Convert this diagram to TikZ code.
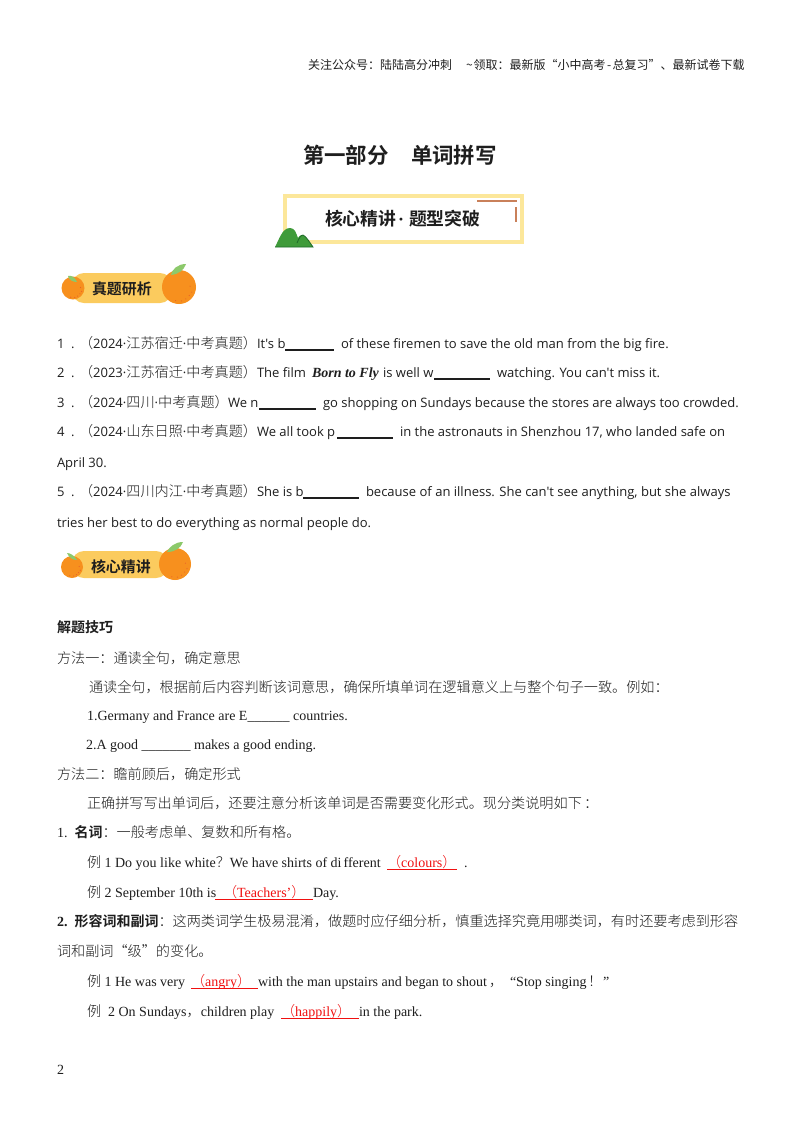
\documentclass[tikz,border=0pt]{standalone}
\usepackage{fontspec}
\setmainfont{Liberation Serif}
\newfontfamily\latsans{Open Sans}[Scale=0.93]
\newfontfamily\cjk{Noto Sans CJK SC}[UprightFont=* Light,Scale=1.01]
\newfontfamily\cjkr{Noto Sans CJK SC}[Scale=1.0]
\newfontfamily\cjkb{Noto Sans CJK SC Bold}
\newcommand\zh[1]{{\cjk #1}}
\newcommand\zr[1]{{\cjkr #1}}
\newcommand\zb[1]{{\cjkb #1}}
\newcommand\sdot{{\latsans ·}}
\definecolor{ink}{HTML}{1E1E1E}
\definecolor{ansred}{HTML}{F01010}
\definecolor{ribbon}{HTML}{FBCB5E}
\definecolor{orangeA}{HTML}{F7901E}
\definecolor{orangeD}{HTML}{E8622A}
\definecolor{leafg}{HTML}{8CC96B}
\definecolor{frameY}{HTML}{FCE79A}
\definecolor{frameO}{HTML}{C9805A}
\definecolor{hill}{HTML}{3F9B3A}
\definecolor{hillD}{HTML}{1F6B2A}
\tikzset{
  txt/.style={anchor=base west,inner sep=0pt,outer sep=0pt,text=ink,font=\fontsize{10.5pt}{12pt}\selectfont},
  sanstxt/.style={txt,font=\fontsize{10.5pt}{12pt}\selectfont\latsans},
  headtxt/.style={txt,font=\fontsize{9pt}{11pt}\selectfont},
  titletxt/.style={txt,font=\fontsize{16.1pt}{18pt}\selectfont},
  subtxt/.style={txt,font=\fontsize{13.4pt}{15pt}\selectfont},
  tagtxt/.style={txt,font=\fontsize{11.2pt}{13pt}\selectfont},
  ans/.style={txt,text=ansred},
  ul/.style={draw=ink,line width=0.8pt},
  ulr/.style={draw=ansred,line width=0.7pt},
  ribbonbar/.style={fill=ribbon,rounded corners=9pt},
  fruit/.style={fill=orangeA},
  leaf/.style={fill=leafg},
  specks/.style={fill=orangeD},
}
\newcommand\orange[3]{% x, y, r
  \fill[fruit] (#1,#2) circle[radius=#3*0.75pt];
  \foreach \a/\b in {0.75/0.3,0.6/0.5,0.4/0.7,0.15/0.82,-0.2/0.8,0.65/-0.05}
    \fill[specks] (#1+\a*#3,#2+\b*#3) circle[radius=0.45pt];
}
\begin{document}
\begin{tikzpicture}[x=0.75pt,y=-0.75pt]
\useasboundingbox (0,0) rectangle (800,1132);
\fill[white] (0,0) rectangle (800,1132);
% header
\node[headtxt] (head) at (308,69) {\zr{关注公众号：陆陆高分冲刺}};
\node[headtxt] (head2) at (466,69) {\zr{\char`\~\kern0.8pt 领取：最新版“小中高考\kern1pt-\kern1pt 总复习”、最新试卷下载}};
% title
\node[titletxt] (title) at (303,163) {\zb{第一部分}};
\node[titletxt] (title2) at (411,163) {\zb{单词拼写}};
% banner
\draw[frameY,line width=3pt] (285,196) rectangle (522,242);
\draw[frameO,line width=1.6pt] (477,201) -- (517,201);
\draw[frameO,line width=1.3pt] (516,207) -- (516,222);
\fill[hill] (275,247) .. controls (279,240) and (282,228) .. (290,228) .. controls (295,228) and (296,233) .. (298,238) .. controls (300,235) and (301,235) .. (303,235) .. controls (306,236) and (310,243) .. (313,247) -- cycle;
\draw[hillD,line width=0.6pt] (297,243) .. controls (299,238) and (301,235) .. (303,235) .. controls (306,236) and (310,243) .. (313,247) -- (275,247);
\node[subtxt] (sub) at (325,225) {\zb{核心精讲}};
\node[subtxt] (subd) at (398,225) {\textbf{·}};
\node[subtxt] (sub2) at (409,225) {\zb{题型突破}};
% tag 1
\fill[ribbonbar] (72,273) rectangle (172,303);
\orange{73}{288}{11.5}
\fill[leaf] (68,276) .. controls (71,275) and (75,277) .. (77,282) .. controls (73,282) and (69,280) .. cycle;
\orange{179}{287}{17}
\fill[leaf] (171,275) .. controls (172,269) and (178,264) .. (186,264) .. controls (184,270) and (179,274) .. cycle;
\node[tagtxt] (tag1) at (92,294) {\zb{真题研析}};
% questions
\node[sanstxt] (n1) at (57,348) {1\ \ .};
\node[sanstxt] (q1a) at (79,348) {\zh{（}2024\sdot\zh{江苏宿迁}\sdot\zh{中考真题）}};
\node[sanstxt] (q1b) at (257,348) {It's b};
\draw[ul] (285,350) -- (334,350);
\node[sanstxt] (q1c) at (341,348) {of these firemen to save the old man from the big fire.};
\node[sanstxt] (n2) at (57,377) {2\ \ .};
\node[sanstxt] (q2a) at (79,377) {\zh{（}2023\sdot\zh{江苏宿迁}\sdot\zh{中考真题）}};
\node[sanstxt] (q2b) at (257,377) {The film};
\node[txt] (q2c) at (312,377) {\textit{\textbf{Born to Fly}}};
\node[sanstxt] (q2d) at (383,377) {is well w};
\draw[ul] (434,379) -- (490,379);
\node[sanstxt] (q2e) at (497,377) {watching. You can't miss it.};
\node[sanstxt] (n3) at (57,407) {3\ \ .};
\node[sanstxt] (q3a) at (79,407) {\zh{（}2024\sdot\zh{四川}\sdot\zh{中考真题）}};
\node[sanstxt] (q3b) at (228,407) {We n};
\draw[ul] (259,409) -- (316,409);
\node[sanstxt] (q3c) at (323,407) {go shopping on Sundays because the stores are always too crowded.};
\node[sanstxt] (n4) at (57,436) {4\ \ .};
\node[sanstxt] (q4a) at (79,436) {\zh{（}2024\sdot\zh{山东日照}\sdot\zh{中考真题）}};
\node[sanstxt] (q4b) at (257,436) {We all took p};
\draw[ul] (337,438) -- (393,438);
\node[sanstxt] (q4c) at (400,436) {in the astronauts in Shenzhou 17, who landed safe on};
\node[sanstxt] (q4d) at (57,467) {April 30.};
\node[sanstxt] (n5) at (57,496) {5\ \ .};
\node[sanstxt] (q5a) at (79,496) {\zh{（}2024\sdot\zh{四川内江}\sdot\zh{中考真题）}};
\node[sanstxt] (q5b) at (257,496) {She is b};
\draw[ul] (303,498) -- (359,498);
\node[sanstxt] (q5c) at (366,496) {because of an illness. She can't see anything, but she always};
\node[sanstxt] (q5d) at (57,527) {tries her best to do everything as normal people do.};
% tag 2
\fill[ribbonbar] (72,551) rectangle (168,578);
\orange{72}{567}{11}
\fill[leaf] (67,553) .. controls (70,553) and (74,555) .. (77,560) .. controls (73,560) and (69,558) .. cycle;
\orange{175}{564}{16}
\fill[leaf] (167,552) .. controls (169,547) and (175,542) .. (183,542) .. controls (181,548) and (175,552) .. cycle;
\node[tagtxt] (tag2) at (91,572) {\zb{核心精讲}};
% body
\node[txt] (h) at (57,632) {\zb{解题技巧}};
\node[txt] (m1) at (57,663) {\zh{方法一：通读全句，确定意思}};
\node[txt] (m1a) at (89,692) {\zh{通读全句，根据前后内容判断该词意思，确保所填单词在逻辑意义上与整个句子一致。例如：}};
\node[txt] (m1b) at (87,720) {1.Germany and France are E\_\_\_\_\_\_ countries.};
\node[txt] (m1c) at (86,749) {2.A good \_\_\_\_\_\_\_ makes a good ending.};
\node[txt] (m2) at (57,779) {\zh{方法二：瞻前顾后，确定形式}};
\node[txt] (m2a) at (87,808) {\zh{正确拼写写出单词后，还要注意分析该单词是否需要变化形式。现分类说明如下}};
\node[txt] (m2b) at (584,808) {\zh{：}};
\node[txt] (s1) at (57,837) {1.\ \ \zb{名词}\zh{：一般考虑单、复数和所有格。}};
\node[txt] (e1) at (87,867) {\zh{例} 1 Do you like white\zh{？}We have shirts of di\kern1.5pt fferent};
\node[ans] (e1a) at (387,867) {\zh{（}colours\zh{）}};
\draw[ulr] (387,869) -- (457,869);
\node[txt] (e1b) at (464,867) {.};
\node[txt] (e2) at (87,897) {\zh{例} 2 September 10th is};
\node[ans] (e2a) at (223,897) {\zh{（}Teachers’\zh{）}};
\draw[ulr] (215,899) -- (313,899);
\node[txt] (e2b) at (313,897) {Day.};
\node[txt] (s2) at (57,926) {\textbf{2.}\ \ \zb{形容词和副词}\zh{：这两类词学生极易混淆，做题时应仔细分析，慎重选择究竟用哪类词，有时还要考虑到形容}};
\node[txt] (s2b) at (57,956) {\zh{词和副词“级”的变化。}};
\node[txt] (e3) at (87,986) {\zh{例} 1 He was very};
\node[ans] (e3a) at (191,986) {\zh{（}angry\zh{）}};
\draw[ulr] (191,988) -- (258,988);
\node[txt] (e3b) at (258,986) {with the man upstairs and began to shout};
\node[txt] (e3c) at (489,986) {\zh{，}};
\node[txt] (e3d) at (510,986) {“Stop singing};
\node[txt] (e3e) at (588,986) {\zh{！}};
\node[txt] (e3f) at (603,986) {”};
\node[txt] (e4) at (87,1016) {\zh{例}\ \ 2 On Sundays\zh{，}children play};
\node[ans] (e4a) at (281,1016) {\zh{（}happily\zh{）}};
\draw[ulr] (281,1018) -- (359,1018);
\node[txt] (e4b) at (359,1016) {in the park.};
\node[txt] (pg) at (57,1074) {2};
\end{tikzpicture}
\end{document}
